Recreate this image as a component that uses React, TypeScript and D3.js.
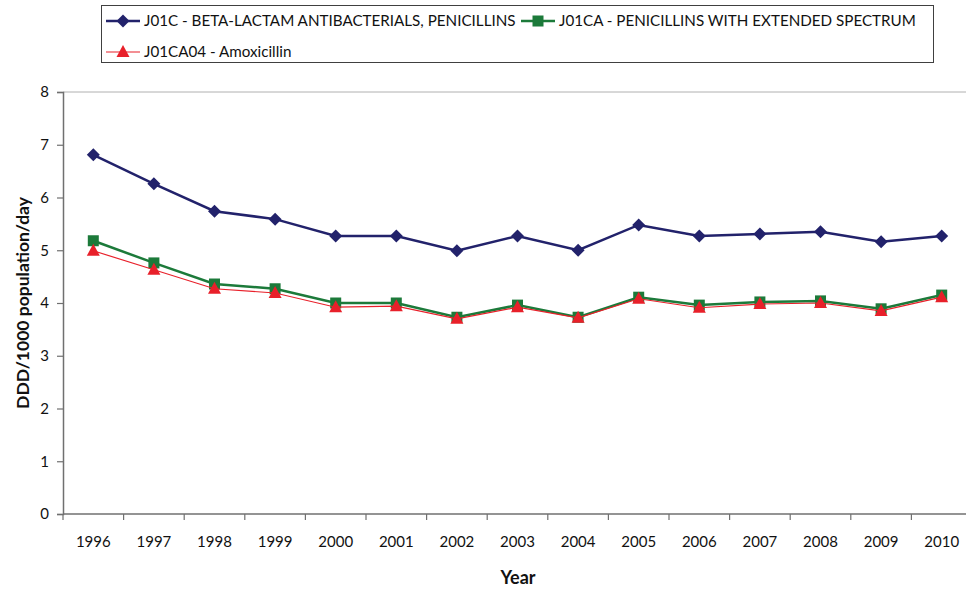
import { useEffect, useRef } from "react";
import * as d3 from "d3";

const years = ["1996", "1997", "1998", "1999", "2000", "2001", "2002", "2003", "2004", "2005", "2006", "2007", "2008", "2009", "2010"];
const j01c = [6.81, 6.26, 5.74, 5.59, 5.27, 5.27, 4.99, 5.27, 5.0, 5.48, 5.27, 5.31, 5.35, 5.16, 5.27];
const j01ca = [5.18, 4.76, 4.36, 4.27, 4.0, 4.0, 3.73, 3.96, 3.73, 4.11, 3.96, 4.02, 4.04, 3.89, 4.15];
const j01ca04 = [4.99, 4.63, 4.27, 4.19, 3.92, 3.94, 3.7, 3.92, 3.72, 4.08, 3.91, 3.98, 4.0, 3.85, 4.11];
const yTicks = [0, 1, 2, 3, 4, 5, 6, 7, 8];

const seriesNames = [
  "J01C - BETA-LACTAM ANTIBACTERIALS, PENICILLINS",
  "J01CA - PENICILLINS WITH EXTENDED SPECTRUM",
  "J01CA04 - Amoxicillin",
];

const FONT = "Lato, 'Open Sans', sans-serif";

export default function App() {
  const svgRef = useRef<SVGSVGElement>(null);

  useEffect(() => {
    if (!svgRef.current) return;
    const svg = d3.select(svgRef.current);
    svg.selectAll("*").remove();

    const left = 63;
    const top = 92;
    const bottom = 514;
    const band = 60.6;

    const x = d3
      .scaleBand<string>()
      .domain(years)
      .range([left, left + band * years.length])
      .padding(0);
    const y = d3.scaleLinear().domain([0, 8]).range([bottom, top]);
    const cx = (i: number) => (x(years[i]) as number) + x.bandwidth() / 2;

    // top border of plot area
    svg.append("line")
      .attr("x1", left).attr("x2", 966)
      .attr("y1", top).attr("y2", top)
      .attr("stroke", "#b0b0b0").attr("stroke-width", 1);

    // y axis
    const yAxis = svg.append("g").attr("transform", `translate(${left},0)`)
      .call(d3.axisLeft(y).tickValues(yTicks).tickSize(6).tickPadding(8).tickFormat(d3.format("d")));
    yAxis.select(".domain").attr("stroke", "#707070").attr("stroke-width", 1.5);
    yAxis.selectAll(".tick line").attr("stroke", "#707070").attr("stroke-width", 1.2);
    yAxis.selectAll("text").attr("font-family", FONT).attr("font-size", 15).attr("fill", "#111");

    // x axis with ticks at category boundaries
    const xg = svg.append("g").attr("transform", `translate(0,${bottom})`);
    xg.append("line")
      .attr("x1", left).attr("x2", 966)
      .attr("stroke", "#707070").attr("stroke-width", 1.5);
    const bounds = years.map((yr) => x(yr) as number);
    xg.selectAll("line.tk")
      .data(bounds)
      .enter()
      .append("line")
      .attr("class", "tk")
      .attr("x1", (d) => d).attr("x2", (d) => d)
      .attr("y1", 0).attr("y2", 6)
      .attr("stroke", "#707070").attr("stroke-width", 1.2);
    xg.selectAll("text")
      .data(years)
      .enter()
      .append("text")
      .attr("x", (_d, i) => cx(i))
      .attr("y", 33)
      .attr("text-anchor", "middle")
      .attr("font-family", FONT)
      .attr("font-size", 15)
      .attr("fill", "#111")
      .text((d) => d);

    // axis titles
    svg.append("text")
      .attr("transform", `translate(29,${(top + bottom) / 2}) rotate(-90)`)
      .attr("text-anchor", "middle")
      .attr("font-family", FONT)
      .attr("font-size", 17.5)
      .attr("font-weight", "bold")
      .attr("fill", "#111")
      .text("DDD/1000 population/day");
    svg.append("text")
      .attr("x", 518)
      .attr("y", 584)
      .attr("text-anchor", "middle")
      .attr("font-family", FONT)
      .attr("font-size", 18)
      .attr("font-weight", "bold")
      .attr("fill", "#111")
      .text("Year");

    const line = d3.line<number>().x((_d, i) => cx(i)).y((d) => y(d));

    const drawMarker = (g: d3.Selection<SVGGElement, unknown, null, undefined>, kind: string, px: number, py: number) => {
      if (kind === "diamond") {
        g.append("path")
          .attr("d", `M${px},${py - 6.5}L${px + 6.5},${py}L${px},${py + 6.5}L${px - 6.5},${py}Z`)
          .attr("fill", "#22226b");
      } else if (kind === "square") {
        g.append("rect")
          .attr("x", px - 5.5).attr("y", py - 5.5)
          .attr("width", 11).attr("height", 11)
          .attr("fill", "#1c7a3a");
      } else {
        g.append("path")
          .attr("d", `M${px},${py - 7}L${px + 6.5},${py + 5}L${px - 6.5},${py + 5}Z`)
          .attr("fill", "#e8202a");
      }
    };

    const series = [
      { data: j01c, color: "#22226b", width: 2.5, marker: "diamond" },
      { data: j01ca, color: "#1c7a3a", width: 2.5, marker: "square" },
      { data: j01ca04, color: "#e8202a", width: 1.2, marker: "triangle" },
    ];

    series.forEach((s) => {
      const g = svg.append("g");
      g.append("path")
        .attr("d", line(s.data))
        .attr("fill", "none")
        .attr("stroke", s.color)
        .attr("stroke-width", s.width);
      s.data.forEach((v, i) => drawMarker(g, s.marker, cx(i), y(v)));
    });

    // legend
    const lg = svg.append("g");
    lg.append("rect")
      .attr("x", 101.5).attr("y", 5.5)
      .attr("width", 832).attr("height", 57)
      .attr("fill", "#fff")
      .attr("stroke", "#404040")
      .attr("stroke-width", 1);
    const items = [
      { x: 106, y: 21, s: series[0], name: seriesNames[0] },
      { x: 521, y: 21, s: series[1], name: seriesNames[1] },
      { x: 106, y: 52, s: series[2], name: seriesNames[2] },
    ];
    items.forEach((it) => {
      const g = lg.append("g");
      g.append("line")
        .attr("x1", it.x).attr("x2", it.x + 34)
        .attr("y1", it.y).attr("y2", it.y)
        .attr("stroke", it.s.color)
        .attr("stroke-width", it.s.width);
      drawMarker(g, it.s.marker, it.x + 17, it.y);
      g.append("text")
        .attr("x", it.x + 38)
        .attr("y", it.y + 5)
        .attr("font-family", FONT)
        .attr("font-size", 15.2)
        .attr("fill", "#111")
        .text(it.name);
    });
  }, []);

  return (
    <svg
      ref={svgRef}
      width={966}
      height={590}
      style={{ position: "absolute", left: 0, top: 0, background: "#fff" }}
    />
  );
}
